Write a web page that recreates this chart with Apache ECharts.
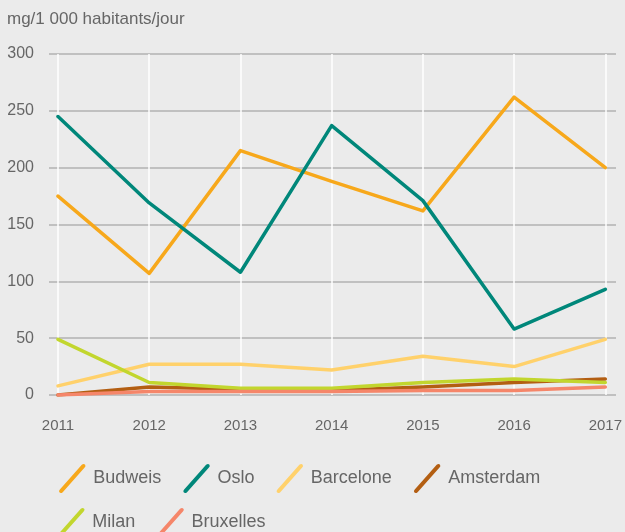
<!DOCTYPE html>
<html>
<head>
<meta charset="utf-8">
<script src="https://cdn.jsdelivr.net/npm/echarts@6/dist/echarts.min.js"></script>
<style>
  html, body { margin: 0; padding: 0; background: #ebebeb; }
  #chart { width: 625px; height: 532px; }
</style>
</head>
<body>
<div id="chart"></div>
<script>
// Years on the category axis
const years = ['2011', '2012', '2013', '2014', '2015', '2016', '2017'];

// Values per city (mg/1 000 habitants/jour)
const budweis    = [175, 107, 215, 188, 162, 262, 200];
const oslo       = [245, 169, 108, 237, 171, 58, 93];
const barcelone  = [8, 27, 27, 22, 34, 25, 49];
const amsterdam  = [0, 7, 5, 4, 7, 11, 14];
const milan      = [49, 11, 6, 6, 11, 14, 11];
const bruxelles  = [0, 3, 3, 3, 4, 4, 7];

// Y axis ticks
const yMin = 0, yMax = 300, yStep = 50;

const FONT = '"Liberation Sans", Arial, sans-serif';
const TEXT = '#666666';

const seriesDefs = [
  { name: 'Budweis',   data: budweis,   color: '#f7a81b' },
  { name: 'Oslo',      data: oslo,      color: '#00877a' },
  { name: 'Barcelone', data: barcelone, color: '#ffd16b' },
  { name: 'Amsterdam', data: amsterdam, color: '#b35e12' },
  { name: 'Milan',     data: milan,     color: '#c2d62e' },
  { name: 'Bruxelles', data: bruxelles, color: '#f5866a' }
];

// Slanted stroke used as legend marker
const slash = 'path://M1,27 L24,1.2 Q26,-0.5 27.5,1 Q28.5,2.5 27,4 L4,29.8 Q2,31.5 0.5,30 Q-0.5,28.5 1,27 Z';

const legendBase = {
  icon: slash,
  itemWidth: 28,
  itemHeight: 29,
  itemGap: 22,
  orient: 'horizontal',
  textStyle: { fontFamily: FONT, fontSize: 18, color: TEXT, padding: [0, 0, 0, 2] },
  itemStyle: { borderWidth: 0 },
  lineStyle: { width: 0 }
};

const chart = echarts.init(document.getElementById('chart'), null, { renderer: 'canvas' });

chart.setOption({
  backgroundColor: '#ebebeb',
  animation: false,
  title: {
    text: 'mg/1 000 habitants/jour',
    left: 2,
    top: 6,
    textStyle: { fontFamily: FONT, fontSize: 17, fontWeight: 'normal', color: TEXT }
  },
  legend: [
    Object.assign({}, legendBase, { left: 54, top: 459, data: ['Budweis', 'Oslo', 'Barcelone', 'Amsterdam'] }),
    Object.assign({}, legendBase, { left: 53, top: 503, data: ['Milan', 'Bruxelles'] })
  ],
  grid: [
    // plotting area
    { left: 58, right: 16, top: 54, bottom: 137 },
    // slightly wider band that carries the horizontal gridlines and value labels
    { left: 49, right: 9, top: 54, bottom: 137, z: 0 }
  ],
  xAxis: [
    {
      gridIndex: 0,
      type: 'category',
      data: years,
      boundaryGap: false,
      axisLine: { show: false },
      axisTick: { show: false },
      axisLabel: { fontFamily: FONT, fontSize: 15, color: TEXT, margin: 23 },
      splitLine: { show: true, lineStyle: { color: '#ffffff', width: 1.5 } },
      z: 1
    },
    { gridIndex: 1, type: 'value', show: false, min: 0, max: 1 }
  ],
  yAxis: [
    {
      gridIndex: 0,
      type: 'value',
      min: yMin, max: yMax, interval: yStep,
      axisLabel: { show: false },
      axisLine: { show: false },
      axisTick: { show: false },
      splitLine: { show: false }
    },
    {
      gridIndex: 1,
      type: 'value',
      min: yMin, max: yMax, interval: yStep,
      axisLine: { show: false },
      axisTick: { show: false },
      axisLabel: { fontFamily: FONT, fontSize: 16, color: TEXT, margin: 15 },
      splitLine: { show: true, lineStyle: { color: '#c0c0c0', width: 2 } },
      z: 0
    }
  ],
  series: seriesDefs.map(s => ({
    name: s.name,
    type: 'line',
    xAxisIndex: 0,
    yAxisIndex: 0,
    data: s.data,
    showSymbol: false,
    symbol: 'none',
    color: s.color,
    itemStyle: { color: s.color },
    lineStyle: { color: s.color, width: 3.5, cap: 'round', join: 'round' },
    z: 3
  }))
});
</script>
</body>
</html>
